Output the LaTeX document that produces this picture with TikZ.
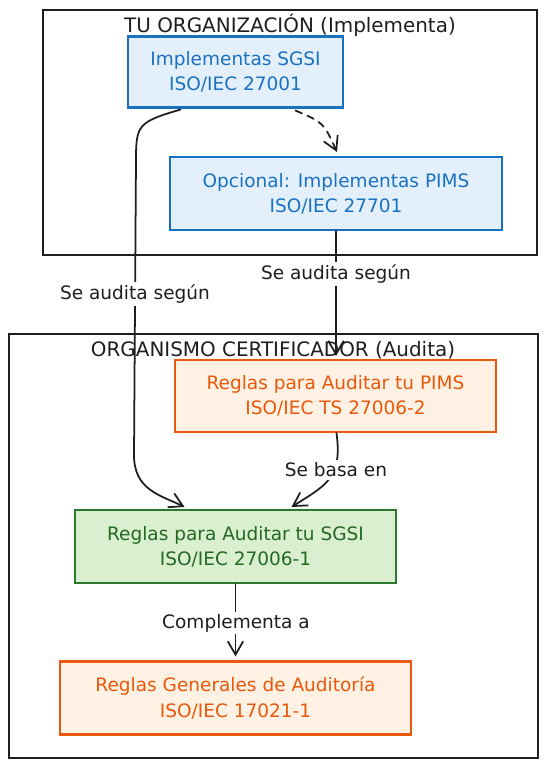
\documentclass[tikz,border=0pt]{standalone}
\usepackage{fontspec}
\setmainfont{DejaVu Sans}
\usetikzlibrary{arrows.meta,calc}
\definecolor{orgink}{HTML}{1E1E1E}
\definecolor{orgblue}{HTML}{1971C2}
\definecolor{orgbluefill}{HTML}{E3F0FB}
\definecolor{orgorange}{HTML}{E8590C}
\definecolor{orgorangefill}{HTML}{FFF1E3}
\definecolor{orggreen}{HTML}{2B7A2B}
\definecolor{orggreenfill}{HTML}{D9EFCF}
\newcommand{\px}{0.03cm}

\begin{document}
\begin{tikzpicture}[
  x=\px, y=-\px,
  font=\fontsize{15.8}{21.5}\selectfont,
  frame/.style={draw=orgink, line width=1.6pt},
  frametitle/.style={text=orgink, inner sep=1pt, font=\fontsize{17}{20}\selectfont},
  normbox/.style={line width=1.8pt, align=center, inner sep=0pt},
  bluebox/.style={normbox, draw=orgblue, fill=orgbluefill, text=orgblue},
  orangebox/.style={normbox, draw=orgorange, fill=orgorangefill, text=orgorange},
  greenbox/.style={normbox, draw=orggreen, fill=orggreenfill, text=orggreen!85!black},
  flow/.style={draw=orgink, line width=1.5pt, line cap=round, -{Straight Barb[length=4mm,width=4.6mm]}},
  lbl/.style={fill=white, text=orgink, inner sep=2pt},
]
\useasboundingbox (0,0) rectangle (547,769);

% ---- containers ----
\draw[frame] (43,10) rectangle (537,255);
\draw[frame] (9,334) rectangle (538,758);
\node[frametitle] (orgtitle) at (290,25) {TU ORGANIZACIÓN (Implementa)};
\node[frametitle] (certtitle) at (273,350) {ORGANISMO CERTIFICADOR (Audita)};

% ---- boxes ----
\node[bluebox, minimum width=215*\px, minimum height=71*\px] (sgsi) at (235.5,72) {Implementas SGSI\\ISO/IEC 27001};
\node[bluebox, minimum width=332*\px, minimum height=73*\px] (pims) at (336,193.5) {Opcional: Implementas PIMS\\ISO/IEC 27701};
\node[orangebox, minimum width=321*\px, minimum height=72*\px] (pimsaud) at (335.5,396) {Reglas para Auditar tu PIMS\\ISO/IEC TS 27006-2};
\node[greenbox, minimum width=321*\px, minimum height=73*\px] (sgsiaud) at (235.5,546.5) {Reglas para Auditar tu SGSI\\ISO/IEC 27006-1};
\node[orangebox, minimum width=351*\px, minimum height=73*\px] (general) at (235.5,698) {Reglas Generales de Auditoría\\ISO/IEC 17021-1};

% ---- connectors ----
\draw[flow, dashed, dash pattern=on 6pt off 5pt] ($(sgsi.south)+(60,2)$) .. controls ($(sgsi.south)+(88,14)$) .. ($(pims.north)+(1,-4)$);
\draw[flow] ($(sgsi.south)+(-55,1)$) .. controls (138,122) and (136,125) .. (136,160)
  -- (134,455) .. controls (134,490) and (160,495) .. ($(sgsiaud.north)+(-51,-2)$);
\draw[flow] (pims.south) -- ($(pims.south |- pimsaud.north)+(0,-3)$);
\draw[flow] ($(pimsaud.south)+(1,0)$) .. controls +(6,45) and +(35,-22) .. ($(sgsiaud.north)+(56,-2)$);
\draw[flow] (sgsiaud.south) -- ($(general.north)+(0,-4)$);

% ---- labels ----
\node[lbl] (lblsgsi) at (135,294) {Se audita según};
\node[lbl] (lblpims) at (336,274) {Se audita según};
\node[lbl] (lblbasa) at (336,470) {Se basa en};
\node[lbl] (lblcomp) at (236,623) {Complementa a};

\end{tikzpicture}
\end{document}
